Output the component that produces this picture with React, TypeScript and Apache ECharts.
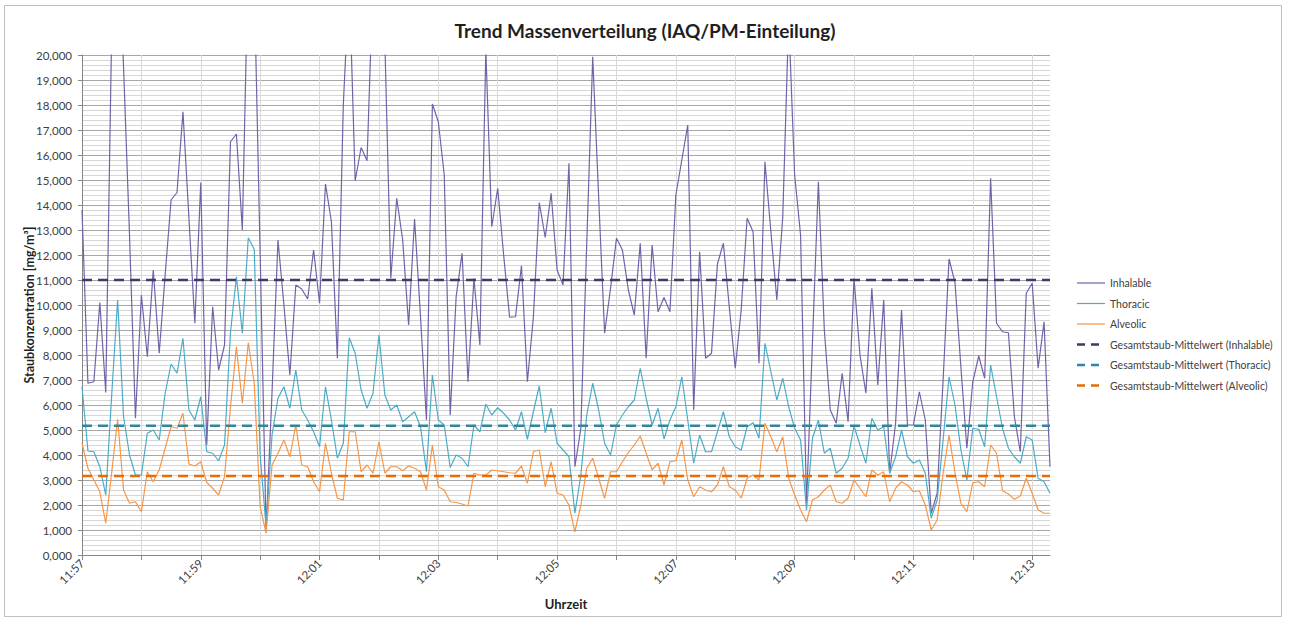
import React, { useEffect, useRef } from "react";
import * as echarts from "echarts";

// Dust concentration readings, one sample every 6 seconds from 11:57:00
const inhalable = [
  13.8, 6.87, 6.93, 10.1, 6.5, 21, 26, 19.5, 12.8, 5.47,
  10.4, 7.93, 11.4, 8.07, 11.2, 14.2, 14.5, 17.73, 13.5, 9.27,
  14.9, 4.4, 9.93, 7.4, 8.4, 16.53, 16.84, 13.0, 24, 23,
  12, 1.0, 6.5, 12.6, 10.0, 7.2, 10.8, 10.64, 10.24, 12.2,
  10.07, 14.84, 13.33, 7.87, 18, 23, 14.97, 16.3, 15.77, 23,
  25, 20.5, 11.07, 14.27, 12.6, 9.2, 13.44, 9.53, 5.4, 18.04,
  17.33, 15.2, 5.6, 10.33, 12.07, 6.93, 11.07, 8.4, 20.2, 13.13,
  14.67, 12.0, 9.51, 9.53, 11.57, 6.93, 9.5, 14.1, 12.7, 14.47,
  11.4, 10.8, 15.67, 3.53, 5.07, 12.5, 19.93, 14.3, 8.87, 10.67,
  12.67, 12.2, 10.6, 9.6, 12.47, 7.87, 12.4, 9.73, 10.3, 9.73,
  14.4, 15.8, 17.2, 5.8, 12.13, 7.87, 8.07, 11.64, 12.47, 9.9,
  7.47, 9.8, 13.47, 12.93, 7.67, 15.73, 12.93, 10.2, 13.53, 21.5,
  15.2, 12.8, 2.07, 8.5, 14.93, 9.0, 5.8, 5.27, 7.27, 5.33,
  11.07, 8.0, 6.47, 10.67, 6.8, 10.2, 3.27, 5.27, 9.8, 5.2,
  5.2, 6.53, 5.4, 1.67, 2.47, 7.0, 11.84, 10.9, 7.5, 4.27,
  6.93, 7.96, 7.07, 15.07, 9.27, 8.93, 8.89, 5.53, 4.13, 10.47,
  10.87, 7.47, 9.33, 3.53,
];

const thoracic = [
  6.73, 4.16, 4.13, 3.53, 2.4, 6.4, 10.2, 5.53, 4.0, 3.2,
  3.2, 4.87, 5.0, 4.6, 6.47, 7.64, 7.27, 8.67, 5.8, 5.4,
  6.33, 4.13, 4.07, 3.77, 4.4, 8.9, 11.13, 8.87, 12.69, 12.23,
  4.0, 1.13, 4.8, 6.27, 6.73, 5.87, 7.4, 5.8, 5.4, 4.93,
  4.33, 6.73, 5.4, 3.87, 4.47, 8.69, 8.07, 6.6, 5.87, 6.47,
  8.8, 6.4, 5.8, 6.0, 5.33, 5.53, 5.73, 5.13, 3.33, 7.2,
  5.4, 5.2, 3.5, 4.0, 3.87, 3.53, 5.2, 4.93, 6.03, 5.6,
  5.89, 5.67, 5.4, 5.0, 5.73, 4.63, 5.73, 6.76, 4.89, 5.87,
  4.47, 4.2, 3.93, 1.67, 3.2, 5.6, 6.87, 5.8, 4.47, 4.0,
  5.2, 5.6, 5.93, 6.2, 7.47, 6.27, 5.2, 5.87, 4.64, 5.4,
  5.93, 7.13, 5.4, 3.67, 4.8, 4.13, 4.13, 4.93, 5.73, 4.73,
  4.33, 4.2, 5.13, 5.29, 4.67, 8.47, 7.33, 6.2, 7.07, 5.93,
  5.07, 4.6, 1.8, 4.67, 5.4, 4.07, 4.27, 3.27, 3.47, 3.87,
  5.16, 4.4, 3.67, 5.47, 5.0, 5.13, 3.27, 3.93, 5.0, 3.93,
  3.67, 3.8, 3.27, 1.47, 2.2, 4.6, 7.13, 6.0, 4.2, 3.0,
  5.07, 5.03, 4.33, 7.6, 6.33, 5.07, 4.27, 3.93, 3.67, 4.73,
  4.6, 3.07, 2.93, 2.47,
];

const alveolic = [
  4.47, 3.47, 3.0, 2.53, 1.27, 3.3, 5.43, 2.6, 2.07, 2.13,
  1.73, 3.33, 2.93, 3.4, 4.27, 5.13, 5.07, 5.67, 3.64, 3.56,
  3.73, 2.9, 2.67, 2.4, 3.13, 5.9, 8.33, 6.07, 8.49, 6.87,
  1.93, 0.87, 3.6, 4.07, 4.6, 3.93, 5.2, 3.6, 3.53, 2.93,
  2.53, 4.47, 3.27, 2.27, 2.2, 4.93, 4.93, 3.33, 3.6, 3.27,
  4.53, 3.27, 3.53, 3.53, 3.37, 3.56, 3.47, 3.33, 2.6, 4.4,
  2.73, 2.6, 2.13, 2.1, 2.04, 1.96, 3.27, 3.2, 3.2, 3.4,
  3.37, 3.33, 3.29, 3.27, 3.56, 2.87, 4.13, 4.2, 2.73, 3.73,
  2.47, 2.4, 2.0, 0.93, 2.0, 3.47, 3.87, 3.07, 2.27, 3.33,
  3.33, 3.73, 4.1, 4.4, 4.76, 4.07, 3.4, 3.67, 2.8, 3.73,
  3.77, 4.6, 3.0, 2.33, 2.73, 2.6, 2.53, 2.8, 3.53, 2.73,
  2.6, 2.27, 3.07, 3.2, 3.0, 5.27, 4.73, 4.13, 4.73, 3.07,
  2.4, 1.8, 1.33, 2.2, 2.33, 2.6, 2.8, 2.13, 2.07, 2.27,
  3.0, 2.67, 2.33, 3.4, 3.2, 3.33, 2.13, 2.67, 2.93, 2.8,
  2.53, 2.57, 2.0, 1.0, 1.4, 3.27, 4.8, 3.3, 2.07, 1.73,
  2.89, 2.93, 2.73, 4.4, 4.07, 2.57, 2.44, 2.23, 2.36, 3.07,
  2.47, 1.8, 1.67, 1.67,
];

// Overall mean values per fraction
const meanInhalable = 11.0;
const meanThoracic = 5.17;
const meanAlveolic = 3.16;

const startSeconds = 11 * 3600 + 57 * 60;
const stepSeconds = 6;

const seriesNames = [
  "Inhalable",
  "Thoracic",
  "Alveolic",
  "Gesamtstaub-Mittelwert (Inhalable)",
  "Gesamtstaub-Mittelwert (Thoracic)",
  "Gesamtstaub-Mittelwert (Alveolic)",
];

const colors = ["#7262a8", "#4bacc6", "#f79646", "#3f3a68", "#31859c", "#e46c0a"];

const pad = (n: number) => String(n).padStart(2, "0");
const times = inhalable.map((_, i) => {
  const s = startSeconds + i * stepSeconds;
  return `${pad(Math.floor(s / 3600))}:${pad(Math.floor((s % 3600) / 60))}:${pad(s % 60)}`;
});

const FONT = "Lato, 'Open Sans', sans-serif";

export default function App() {
  const ref = useRef<HTMLDivElement>(null);

  useEffect(() => {
    if (!ref.current) return;
    const chart = echarts.init(ref.current, undefined, { renderer: "svg" });
    const last = times.length - 1;

    const lineSeries = (name: string, data: number[], color: string) => ({
      name,
      type: "line",
      data,
      symbol: "none",
      lineStyle: { color, width: 1.2 },
      itemStyle: { color },
      emphasis: { disabled: true },
      z: 2,
    });
    const meanSeries = (name: string, value: number, color: string) => ({
      name,
      type: "line",
      data: [
        [0, value],
        [last, value],
      ],
      symbol: "none",
      lineStyle: { color, width: 2.5, type: [10, 6] },
      itemStyle: { color },
      emphasis: { disabled: true },
      z: 3,
    });

    const legendY = [283, 303.5, 324, 344.5, 365, 385.5];
    const legendGraphics: any[] = [];
    seriesNames.forEach((name, k) => {
      const y = legendY[k];
      if (k < 3) {
        legendGraphics.push({
          type: "line",
          shape: { x1: 1077, y1: y, x2: 1105, y2: y },
          style: { stroke: colors[k], lineWidth: 1.2 },
        });
      } else {
        legendGraphics.push({
          type: "line",
          shape: { x1: 1077, y1: y, x2: 1100, y2: y },
          style: { stroke: colors[k], lineWidth: 2.5, lineDash: [8, 6] },
        });
      }
      legendGraphics.push({
        type: "text",
        x: 1110,
        y,
        style: {
          text: name,
          font: `10.5px ${FONT}`,
          fill: "#404040",
          textVerticalAlign: "middle",
        },
      });
    });

    chart.setOption({
      animation: false,
      backgroundColor: "#ffffff",
      grid: { left: 82, right: 240, top: 55, bottom: 67, containLabel: false },
      xAxis: {
        type: "category",
        data: times,
        boundaryGap: false,
        axisLine: { show: true, lineStyle: { color: "#868686" } },
        axisTick: { show: true, interval: 9, length: 5, lineStyle: { color: "#868686" } },
        axisLabel: {
          interval: 19,
          rotate: 45,
          margin: 6,
          fontFamily: FONT,
          fontSize: 11.5,
          color: "#404040",
          formatter: (v: string) => v.slice(0, 5),
        },
        splitLine: { show: true, interval: 9, lineStyle: { color: "#d9d9d9" } },
      },
      yAxis: {
        type: "value",
        min: 0,
        max: 20,
        interval: 1,
        axisLine: { show: true, lineStyle: { color: "#868686" } },
        axisTick: { show: true, length: 4, lineStyle: { color: "#868686" } },
        axisLabel: {
          margin: 10,
          fontFamily: FONT,
          fontSize: 11.5,
          color: "#404040",
          formatter: (v: number) => v.toFixed(3).replace(".", ","),
        },
        splitLine: { show: true, lineStyle: { color: "#a6a6a6" } },
        minorTick: { show: false, splitNumber: 5 },
        minorSplitLine: { show: true, lineStyle: { color: "#d6d6d6" } },
      },
      series: [
        lineSeries(seriesNames[0], inhalable, colors[0]),
        lineSeries(seriesNames[1], thoracic, colors[1]),
        lineSeries(seriesNames[2], alveolic, colors[2]),
        meanSeries(seriesNames[3], meanInhalable, colors[3]),
        meanSeries(seriesNames[4], meanThoracic, colors[4]),
        meanSeries(seriesNames[5], meanAlveolic, colors[5]),
      ],
      graphic: [
        {
          type: "rect",
          shape: { x: 4.5, y: 5.5, width: 1277, height: 611 },
          style: { fill: "none", stroke: "#bfbfbf", lineWidth: 1 },
          silent: true,
        },
        {
          type: "text",
          x: 645,
          y: 30,
          style: {
            text: "Trend Massenverteilung (IAQ/PM-Einteilung)",
            font: `bold 19px ${FONT}`,
            fill: "#1f1f1f",
            textAlign: "center",
            textVerticalAlign: "middle",
          },
        },
        {
          type: "text",
          x: 29,
          y: 305,
          rotation: Math.PI / 2,
          style: {
            text: "Staubkonzentration [mg/m³]",
            font: `bold 12.5px ${FONT}`,
            fill: "#1f1f1f",
            textAlign: "center",
            textVerticalAlign: "middle",
          },
        },
        {
          type: "text",
          x: 566,
          y: 604,
          style: {
            text: "Uhrzeit",
            font: `bold 13px ${FONT}`,
            fill: "#1f1f1f",
            textAlign: "center",
            textVerticalAlign: "middle",
          },
        },
        ...legendGraphics,
      ],
    });

    return () => chart.dispose();
  }, []);

  return (
    <div
      ref={ref}
      style={{ position: "fixed", left: 0, top: 0, width: 1290, height: 622, background: "#fff" }}
    />
  );
}
